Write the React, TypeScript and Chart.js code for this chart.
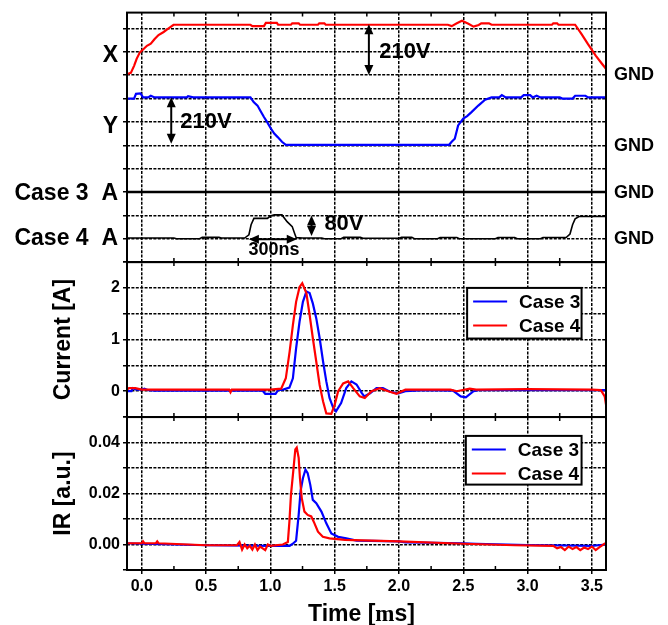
import React, { useEffect, useRef } from 'react';
import { Chart, registerables } from 'chart.js';

Chart.register(...registerables);

// ---------------- axis ranges / ticks ----------------
const T_MIN = -0.115;
const T_MAX = 3.61;
const MINOR_TIME_TICKS = [0.25, 0.75, 1.25, 1.75, 2.25, 2.75, 3.25];

// ---------------- top panel: voltage traces (1 grid division = 1 unit) ----------------
const voltX: [number, number][] = [
  [-0.115, 8.05], [-0.085, 8.1], [-0.06, 8.4], [-0.04, 8.7], [-0.015, 8.98], [0.01, 9.1],
  [0.04, 9.26], [0.07, 9.35], [0.1, 9.55], [0.13, 9.72], [0.17, 9.85], [0.2, 9.97],
  [0.247, 10.16], [0.845, 10.16], [0.86, 10.1], [0.95, 10.1], [0.965, 10.24], [1.05, 10.24],
  [1.06, 10.16], [1.16, 10.16], [1.17, 10.22], [1.22, 10.22], [1.23, 10.16], [1.37, 10.16],
  [1.38, 10.22], [1.42, 10.22], [1.43, 10.16], [2.38, 10.16], [2.41, 10.1], [2.45, 10.22],
  [2.49, 10.33], [2.54, 10.2], [2.58, 10.08], [2.62, 10.15], [2.64, 10.22], [2.7, 10.22],
  [2.72, 10.16], [3.19, 10.16], [3.2, 10.22], [3.23, 10.22], [3.24, 10.16], [3.37, 10.16],
  [3.42, 9.76], [3.47, 9.33], [3.53, 8.84], [3.58, 8.48], [3.61, 8.27],
];
const voltY: [number, number][] = [
  [-0.115, 7.0], [-0.06, 7.0], [-0.045, 7.2], [-0.01, 7.22], [0.01, 7.05], [0.05, 7.05],
  [0.07, 7.12], [0.1, 7.05], [0.35, 7.05], [0.36, 7.1], [0.4, 7.05], [0.845, 7.05],
  [0.87, 6.85], [0.9, 6.7], [0.92, 6.5], [0.95, 6.21], [0.98, 5.95], [1.0, 5.75],
  [1.03, 5.5], [1.055, 5.36], [1.09, 5.15], [1.12, 5.02], [2.39, 5.02], [2.41, 5.15],
  [2.434, 5.28], [2.46, 5.85], [2.5, 6.14], [2.53, 6.25], [2.564, 6.42], [2.617, 6.7],
  [2.67, 6.95], [2.72, 7.05], [2.78, 7.05], [2.8, 7.15], [2.83, 7.05], [2.95, 7.05],
  [2.97, 7.15], [3.02, 7.15], [3.04, 7.05], [3.07, 7.12], [3.1, 7.05], [3.25, 7.05],
  [3.27, 7.0], [3.35, 7.0], [3.37, 7.12], [3.45, 7.12], [3.47, 7.05], [3.61, 7.05],
];
const voltCase3A: [number, number][] = [[-0.115, 3.0], [3.61, 3.0]];
const voltCase4A: [number, number][] = [
  [-0.115, 1.03], [0.25, 1.03], [0.27, 1.0], [0.45, 1.0], [0.47, 1.06], [0.6, 1.06],
  [0.62, 1.03], [0.8, 1.03], [0.833, 1.17], [0.85, 1.6], [0.872, 1.87], [0.977, 1.87],
  [1.0, 1.97], [1.03, 2.02], [1.09, 2.02], [1.13, 1.73], [1.17, 1.52], [1.19, 1.2],
  [1.2, 1.05], [1.25, 1.03], [1.4, 1.03], [1.42, 1.0], [1.55, 1.0], [1.57, 1.06],
  [1.7, 1.06], [1.72, 1.02], [2.0, 1.02], [2.02, 1.06], [2.1, 1.06], [2.12, 1.0],
  [2.3, 1.0], [2.32, 1.05], [2.45, 1.05], [2.47, 1.0], [2.75, 1.0], [2.77, 1.05],
  [2.9, 1.05], [2.92, 1.0], [3.1, 1.0], [3.12, 1.05], [3.3, 1.05], [3.33, 1.2],
  [3.35, 1.6], [3.37, 1.85], [3.4, 1.95], [3.61, 1.95],
];

// ---------------- middle panel: current [A] ----------------
const currentCase3: [number, number][] = [
  [-0.115, 0.0], [-0.08, 0.0], [-0.07, 0.06], [-0.04, 0.03], [0.0, 0.03], [0.02, 0.05],
  [0.05, 0.02], [0.1, 0.01], [0.5, 0.01], [0.94, 0.01], [0.96, -0.05], [1.04, -0.05],
  [1.06, 0.02], [1.1, 0.03], [1.148, 0.07], [1.175, 0.25], [1.2, 0.83], [1.227, 1.35],
  [1.253, 1.73], [1.28, 1.93], [1.305, 1.9], [1.33, 1.7], [1.357, 1.41], [1.383, 1.03],
  [1.41, 0.57], [1.435, 0.19], [1.46, -0.13], [1.49, -0.33], [1.51, -0.39], [1.55, -0.23],
  [1.59, 0.06], [1.63, 0.19], [1.67, 0.13], [1.71, -0.03], [1.73, -0.1], [1.775, -0.04],
  [1.825, 0.06], [1.875, 0.06], [1.93, -0.01], [1.995, -0.04], [2.05, 0.0], [2.2, 0.02],
  [2.42, 0.01], [2.48, -0.1], [2.52, -0.12], [2.58, 0.0], [2.62, 0.02], [3.0, 0.02],
  [3.5, 0.02], [3.61, 0.02],
];
const currentCase4: [number, number][] = [
  [-0.115, 0.03], [-0.1, 0.06], [-0.05, 0.06], [0.0, 0.03], [0.3, 0.03], [0.68, 0.03],
  [0.69, -0.02], [0.7, 0.03], [1.0, 0.03], [1.084, 0.05], [1.12, 0.25], [1.15, 0.77],
  [1.175, 1.28], [1.2, 1.73], [1.227, 2.02], [1.248, 2.09], [1.28, 1.9], [1.305, 1.48],
  [1.33, 1.03], [1.357, 0.57], [1.383, 0.12], [1.41, -0.2], [1.435, -0.43], [1.474, -0.44],
  [1.5, -0.26], [1.527, 0.0], [1.566, 0.15], [1.605, 0.19], [1.644, 0.06], [1.695, -0.1],
  [1.734, -0.13], [1.787, 0.0], [1.85, 0.06], [1.917, 0.0], [1.98, -0.05], [2.05, 0.03],
  [2.4, 0.03], [2.45, 0.0], [2.55, 0.05], [2.6, 0.03], [3.0, 0.04], [3.5, 0.03],
  [3.57, 0.02], [3.6, -0.1], [3.61, -0.26],
];

// ---------------- bottom panel: IR [a.u.] ----------------
const irCase3: [number, number][] = [
  [-0.115, 0.0005], [0.0, 0.0003], [0.5, -0.0003], [1.0, -0.0005], [1.15, -0.0005],
  [1.175, 0.0003], [1.2, 0.0015], [1.22, 0.0116], [1.235, 0.021], [1.253, 0.026],
  [1.273, 0.0294], [1.29, 0.028], [1.31, 0.0235], [1.33, 0.0175], [1.357, 0.0162],
  [1.397, 0.0129], [1.435, 0.0083], [1.474, 0.0043], [1.527, 0.003], [1.59, 0.0024],
  [1.67, 0.0015], [2.0, 0.0012], [2.05, 0.0008], [2.5, 0.0005], [2.6, 0.0003],
  [3.0, -0.0002], [3.5, -0.0005], [3.61, 0.0],
];
const irCase4: [number, number][] = [
  [-0.115, 0.0005], [0.0, 0.0005], [0.01, 0.0012], [0.02, 0.0005], [0.11, 0.0005],
  [0.12, 0.0012], [0.13, 0.0005], [0.5, -0.0003], [0.74, -0.0003], [0.76, 0.001],
  [0.78, -0.002], [0.8, 0.0], [0.82, -0.0015], [0.84, -0.0005], [0.86, -0.002],
  [0.88, 0.0], [0.9, -0.0022], [0.92, -0.0008], [0.94, -0.0015], [0.96, -0.0022],
  [0.98, 0.0], [1.0, -0.0005], [1.097, 0.0], [1.136, 0.001], [1.148, 0.009],
  [1.16, 0.0195], [1.178, 0.0288], [1.194, 0.0373], [1.205, 0.038], [1.22, 0.034],
  [1.23, 0.026], [1.244, 0.0182], [1.265, 0.0129], [1.29, 0.0116], [1.318, 0.011],
  [1.343, 0.0083], [1.37, 0.005], [1.408, 0.003], [1.46, 0.0024], [1.58, 0.0018],
  [2.0, 0.0012], [2.5, 0.0003], [2.9, -0.0003], [3.2, -0.0005], [3.23, -0.0015],
  [3.26, -0.001], [3.29, -0.0022], [3.32, -0.0008], [3.35, -0.0018], [3.38, -0.001],
  [3.41, -0.0022], [3.44, -0.0012], [3.47, -0.0018], [3.5, -0.0008], [3.53, -0.0022],
  [3.56, -0.001], [3.6, 0.0004], [3.61, 0.0004],
];

// ---------------- labels ----------------
const channelLabels = ['X', 'Y', 'Case 3  A', 'Case 4  A'];
const channelLabelLevels = [8.9, 5.85, 2.97, 1.05];
const gndLevels = [8.05, 5.0, 3.0, 1.03];
const legendLabels = ['Case 3', 'Case 4'];

const SANS = '"Liberation Sans", Arial, Helvetica, sans-serif';
const SERIF = '"Liberation Serif", "Times New Roman", serif';
const RED = '#ff0000';
const BLUE = '#0000ff';
const bold = (px: number) => `bold ${px}px ${SANS}`;

const toXY = (pts: [number, number][]) => pts.map(([x, y]) => ({ x, y }));
const trace = (label: string, pts: [number, number][], color: string, axis: string, width = 2.2) => ({
  label,
  data: toXY(pts),
  borderColor: color,
  backgroundColor: color,
  borderWidth: width,
  pointRadius: 0,
  pointHoverRadius: 0,
  tension: 0,
  fill: false,
  yAxisID: axis,
});

function tri(ctx: CanvasRenderingContext2D, x: number, y: number, dir: string) {
  const L = 10, W = 4.5;
  ctx.beginPath();
  if (dir === 'up') { ctx.moveTo(x, y); ctx.lineTo(x - W, y + L); ctx.lineTo(x + W, y + L); }
  if (dir === 'down') { ctx.moveTo(x, y); ctx.lineTo(x - W, y - L); ctx.lineTo(x + W, y - L); }
  if (dir === 'left') { ctx.moveTo(x, y); ctx.lineTo(x + L, y - W); ctx.lineTo(x + L, y + W); }
  if (dir === 'right') { ctx.moveTo(x, y); ctx.lineTo(x - L, y - W); ctx.lineTo(x - L, y + W); }
  ctx.closePath();
  ctx.fill();
}

function vArrow(ctx: CanvasRenderingContext2D, x: number, yTopPx: number, yBotPx: number) {
  ctx.beginPath();
  ctx.moveTo(x, yTopPx + 6);
  ctx.lineTo(x, yBotPx - 6);
  ctx.stroke();
  tri(ctx, x, yTopPx, 'up');
  tri(ctx, x, yBotPx, 'down');
}

function hArrow(ctx: CanvasRenderingContext2D, x1: number, x2: number, y: number) {
  ctx.beginPath();
  ctx.moveTo(x1 + 6, y);
  ctx.lineTo(x2 - 6, y);
  ctx.stroke();
  tri(ctx, x1, y, 'left');
  tri(ctx, x2, y, 'right');
}

const overlayPlugin = {
  id: 'overlay',
  afterDraw(chart: any) {
    const { ctx, chartArea: ca, scales } = chart;
    const xs = scales.x, yt = scales.yTop, yc = scales.yCur, yi = scales.yIR;
    const X = (t: number) => xs.getPixelForValue(t);
    ctx.save();
    ctx.setLineDash([]);
    ctx.strokeStyle = '#000';
    ctx.fillStyle = '#000';

    // minor ticks on panel borders
    ctx.lineWidth = 1.5;
    for (const t of MINOR_TIME_TICKS) {
      const px = X(t);
      for (const s of [yt, yc, yi]) {
        ctx.beginPath();
        ctx.moveTo(px, s.top); ctx.lineTo(px, s.top + 4);
        ctx.moveTo(px, s.bottom); ctx.lineTo(px, s.bottom - 4);
        ctx.stroke();
      }
    }

    // legends
    const drawLegend = (s: any, tL: number, tR: number, vTop: number, vBot: number) => {
      const l = X(tL), r = X(tR), t = s.getPixelForValue(vTop), b = s.getPixelForValue(vBot);
      ctx.fillStyle = '#fff';
      ctx.fillRect(l, t, r - l, b - t);
      ctx.lineWidth = 2;
      ctx.strokeStyle = '#000';
      ctx.strokeRect(l, t, r - l, b - t);
      const colors = [BLUE, RED];
      ctx.font = bold(19);
      ctx.textAlign = 'left';
      ctx.textBaseline = 'middle';
      legendLabels.forEach((lab, i) => {
        const ry = t + 13.5 + i * 24;
        ctx.strokeStyle = colors[i];
        ctx.lineWidth = 2;
        ctx.beginPath(); ctx.moveTo(l + 6, ry); ctx.lineTo(l + 40, ry); ctx.stroke();
        ctx.fillStyle = '#000';
        ctx.fillText(lab, l + 52, ry + 1);
      });
      ctx.strokeStyle = '#000';
      ctx.fillStyle = '#000';
    };
    drawLegend(yc, 2.53, 3.42, 2.0, 1.02);
    drawLegend(yi, 2.52, 3.42, 0.0426, 0.0235);

    // panel frames
    ctx.lineWidth = 2;
    ctx.strokeStyle = '#000';
    for (const s of [yt, yc, yi]) ctx.strokeRect(ca.left, s.top, ca.right - ca.left, s.bottom - s.top);

    // voltage annotations
    ctx.lineWidth = 2;
    vArrow(ctx, X(1.766), yt.getPixelForValue(10.18), yt.getPixelForValue(8.01));
    vArrow(ctx, X(0.229), yt.getPixelForValue(7.06), yt.getPixelForValue(5.07));
    vArrow(ctx, X(1.32), yt.getPixelForValue(1.99), yt.getPixelForValue(1.12));
    hArrow(ctx, X(0.833), X(1.205), yt.getPixelForValue(0.98));
    ctx.font = bold(22);
    ctx.textAlign = 'left';
    ctx.textBaseline = 'middle';
    ctx.fillText('210V', X(1.846), yt.getPixelForValue(8.98));
    ctx.fillText('210V', X(0.30), yt.getPixelForValue(6.0));
    ctx.fillText('80V', X(1.42), yt.getPixelForValue(1.62));
    ctx.font = bold(18);
    ctx.textAlign = 'center';
    ctx.fillText('300ns', X(1.028), yt.getPixelForValue(0.52));

    // channel labels (left) and GND labels (right)
    ctx.font = bold(23);
    ctx.textAlign = 'right';
    channelLabels.forEach((lab, i) => ctx.fillText(lab, ca.left - 9, yt.getPixelForValue(channelLabelLevels[i]) + 1));
    ctx.font = bold(18);
    ctx.textAlign = 'left';
    gndLevels.forEach((v) => ctx.fillText('GND', ca.right + 8, yt.getPixelForValue(v) + 1));

    // y axis titles
    ctx.font = bold(23);
    ctx.textAlign = 'center';
    ctx.textBaseline = 'middle';
    const yTitle = (s: any, text: string) => {
      ctx.save();
      ctx.translate(64, (s.top + s.bottom) / 2);
      ctx.rotate(-Math.PI / 2);
      ctx.fillText(text, 0, 0);
      ctx.restore();
    };
    yTitle(yc, 'Current [A]');
    yTitle(yi, 'IR [a.u.]');

    // x axis title: "Time [" + serif "m" + "s]"
    const partA = 'Time [', partM = 'm', partB = 's]';
    ctx.font = bold(23);
    const wA = ctx.measureText(partA).width;
    const wB = ctx.measureText(partB).width;
    ctx.font = `bold 23px ${SERIF}`;
    const wM = ctx.measureText(partM).width;
    const total = wA + wM + wB;
    let x0 = (ca.left + ca.right) / 2 - 5 - total / 2;
    const ty = 615;
    ctx.textAlign = 'left';
    ctx.textBaseline = 'middle';
    ctx.font = bold(23);
    ctx.fillText(partA, x0, ty);
    x0 += wA;
    ctx.font = `bold 23px ${SERIF}`;
    ctx.fillText(partM, x0, ty);
    x0 += wM;
    ctx.font = bold(23);
    ctx.fillText(partB, x0, ty);

    ctx.restore();
  },
};

const gridCommon = {
  color: '#000',
  lineWidth: 1.5,
  drawTicks: true,
  tickLength: 4,
  tickColor: '#000',
  tickWidth: 1.5,
};
const borderCommon = { display: false, dash: [3, 1.4] };
const tickFont = { family: SANS, weight: 'bold' as const, size: 16 };

export default function App() {
  const ref = useRef<HTMLCanvasElement>(null);
  useEffect(() => {
    if (!ref.current) return;
    Chart.defaults.font.family = SANS;
    const chart = new Chart(ref.current, {
      type: 'line',
      data: {
        datasets: [
          trace('Current Case 4', currentCase4, RED, 'yCur'),
          trace('Current Case 3', currentCase3, BLUE, 'yCur'),
          trace('IR Case 4', irCase4, RED, 'yIR'),
          trace('IR Case 3', irCase3, BLUE, 'yIR'),
          trace('X', voltX, RED, 'yTop'),
          trace('Y', voltY, BLUE, 'yTop'),
          trace('Case 3 A', voltCase3A, '#000', 'yTop', 2.5),
          trace('Case 4 A', voltCase4A, '#000', 'yTop', 1.6),
        ] as any,
      },
      options: {
        animation: false,
        responsive: false,
        events: [],
        layout: { padding: { left: 0, top: 10, right: 62, bottom: 0 } },
        plugins: { legend: { display: false }, tooltip: { enabled: false } },
        scales: {
          x: {
            type: 'linear',
            position: 'bottom',
            min: T_MIN,
            max: T_MAX,
            grid: gridCommon,
            border: borderCommon,
            ticks: {
              stepSize: 0.5,
              includeBounds: false,
              autoSkip: false,
              maxRotation: 0,
              padding: 3,
              color: '#000',
              font: tickFont,
              callback: (v: any) => Number(v).toFixed(1),
            },
            afterFit: (s: any) => { s.height = 55; },
          },
          yTop: {
            type: 'linear',
            position: 'left',
            stack: 'panels',
            stackWeight: 250.7,
            weight: 3,
            min: 0,
            max: 10.68,
            grid: gridCommon,
            border: borderCommon,
            ticks: { stepSize: 1, includeBounds: false, autoSkip: false, color: '#000', font: tickFont, callback: () => '' },
            afterFit: (s: any) => { s.width = 127; },
          },
          yCur: {
            type: 'linear',
            position: 'left',
            stack: 'panels',
            stackWeight: 155.7,
            weight: 2,
            min: -0.5,
            max: 2.5,
            grid: gridCommon,
            border: borderCommon,
            ticks: {
              stepSize: 0.5,
              includeBounds: false,
              autoSkip: false,
              padding: 3,
              color: '#000',
              font: tickFont,
              callback: (v: any) => (Number.isInteger(Number(v)) ? String(v) : ''),
            },
            afterFit: (s: any) => { s.width = 127; },
          },
          yIR: {
            type: 'linear',
            position: 'left',
            stack: 'panels',
            stackWeight: 153.7,
            weight: 1,
            min: -0.01,
            max: 0.05,
            grid: gridCommon,
            border: borderCommon,
            ticks: {
              stepSize: 0.01,
              includeBounds: false,
              autoSkip: false,
              padding: 3,
              color: '#000',
              font: tickFont,
              callback: (v: any) => {
                const k = Math.round(Number(v) * 100);
                return k >= 0 && k <= 4 && k % 2 === 0 ? (k / 100).toFixed(2) : '';
              },
            },
            afterFit: (s: any) => { s.width = 127; },
          },
        },
      } as any,
      plugins: [overlayPlugin],
    });
    return () => chart.destroy();
  }, []);
  return (
    <canvas
      ref={ref}
      width={668}
      height={625}
      style={{ position: 'fixed', left: 0, top: 0, width: 668, height: 625, display: 'block', background: '#fff' }}
    />
  );
}
